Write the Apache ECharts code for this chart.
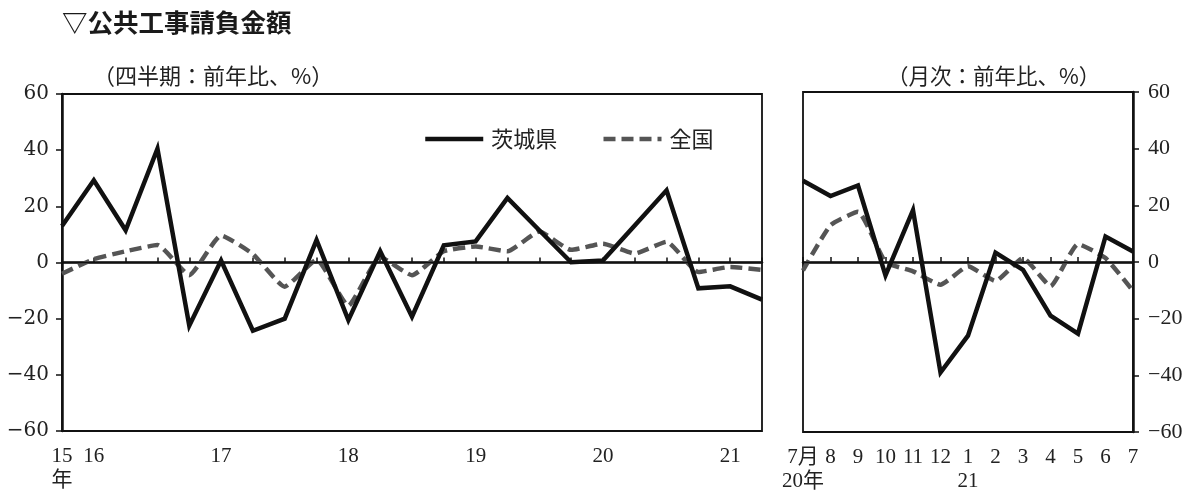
<!DOCTYPE html>
<html><head><meta charset="utf-8">
<script src="https://cdn.jsdelivr.net/npm/echarts@6/dist/echarts.min.js"></script>
<style>html,body{margin:0;padding:0;background:#fff}#c{width:1197px;height:493px}</style>
</head><body><div id="c"></div>
<script>
// Quarterly (前年比, %), 2015 Q4 .. 2021 Q2
var quarterLabels = ['15\n年','16','','','','17','','','','18','','','','19','','','','20','','','','21',''];
var ibarakiQ  = [13, 29.3, 11.5, 40.5, -22.5, 0.7, -24.3, -20, 8, -20.5, 4, -19.3, 6.1, 7.5, 23, 11.5, 0.1, 0.7, 13.2, 25.7, -9.2, -8.5, -13.2];
var nationalQ = [-4, 1.2, 4, 6.2, -4.5, 9.6, 3, -8.6, 1, -15.4, 2, -4.5, 4, 5.7, 4, 11, 4.5, 6.7, 3.2, 7.4, -3.4, -1.6, -2.6];
// Monthly (前年比, %), 2020/7 .. 2021/7
var monthLabels = ['7月\n20年','8','9','10','11','12','1\n21','2','3','4','5','6','7'];
var ibarakiM  = [28.7, 23.3, 27, -4.7, 18.3, -39, -26, 3.3, -2.8, -18.9, -25.3, 9, 3.7];
var nationalM = [-3, 13, 17.7, 0, -3.3, -8, -1.5, -6.7, 1.4, -8.5, 6.3, 1.4, -10.2];
var yTicks = {min: -60, max: 60, interval: 20};
var seriesNames = ['茨城県', '全国'];
var titleText = '▽公共工事請負金額';
var subLeft = '（四半期：前年比、%）';
var subRight = '（月次：前年比、%）';

var chart = echarts.init(document.getElementById('c'), null, {renderer: 'canvas'});
var CJK = '"Noto Sans CJK JP", "Noto Sans", sans-serif';
var minusFmt = function (v) { return String(v).replace('-', '\u2212'); };
var solidStyle = {color: '#111', width: 4.5, join: 'miter', cap: 'butt'};
var dashStyle = {color: '#555', width: 4.5, type: [12, 6], join: 'round', cap: 'butt'};
var zeroLine = {silent: true, symbol: 'none', label: {show: false},
  lineStyle: {color: '#111', width: 1.3, type: 'solid'}, data: [{yAxis: 0}]};

function xAx(gi, data, font, size) {
  return {type: 'category', gridIndex: gi, data: data, boundaryGap: false, position: 'bottom',
    axisLine: {show: true, lineStyle: {color: '#111', width: 2.5}},
    axisTick: {show: true, inside: true, length: 5, interval: 0, lineStyle: {color: '#111', width: 1.5}},
    axisLabel: {interval: 0, margin: 13, color: '#222', fontFamily: font, fontSize: size, lineHeight: 24},
    splitLine: {show: false}};
}
function yAx(gi, pos, font, size, margin) {
  return {type: 'value', gridIndex: gi, position: pos, min: yTicks.min, max: yTicks.max, interval: yTicks.interval,
    axisLine: {show: true, lineStyle: {color: '#111', width: 2.5}},
    axisTick: {show: true, inside: false, length: 6, lineStyle: {color: '#111', width: 1.5}},
    axisLabel: {margin: margin, color: '#222', fontFamily: font, fontSize: size, formatter: minusFmt},
    splitLine: {show: false}};
}

chart.setOption({
  animation: false,
  backgroundColor: '#fff',
  title: [
    {text: titleText, left: 57, top: 5, padding: 5, textStyle: {fontFamily: CJK, fontWeight: 'bold', fontSize: 25.5, color: '#1a1a1a'}},
    {text: subLeft, left: 88, top: 60, textStyle: {fontFamily: CJK, fontWeight: 'normal', fontSize: 22, color: '#222'}},
    {text: subRight, left: 882, top: 60, textStyle: {fontFamily: CJK, fontWeight: 'normal', fontSize: 21.5, color: '#222'}}
  ],
  legend: {
    data: seriesNames, left: 423, top: 128, padding: 0, itemWidth: 58, itemHeight: 20, itemGap: 44,
    textStyle: {fontFamily: CJK, fontSize: 22, color: '#222', padding: [0, 0, 0, 3]},
    itemStyle: {opacity: 0, borderWidth: 0},
    lineStyle: {width: 4.5}
  },
  grid: [
    {left: 62, top: 94, width: 700, height: 337, show: true, borderColor: '#111', borderWidth: 1.8, backgroundColor: 'transparent'},
    {left: 803, top: 92, width: 330, height: 344, show: true, borderColor: '#111', borderWidth: 1.8, backgroundColor: 'transparent'}
  ],
  xAxis: [
    xAx(0, quarterLabels, '"Liberation Serif", "Noto Sans CJK JP", serif', 21),
    xAx(1, monthLabels, '"Liberation Serif", "Noto Sans CJK JP", serif', 21)
  ],
  yAxis: [
    yAx(0, 'left', '"DejaVu Serif", serif', 20, 13),
    yAx(1, 'right', '"Liberation Serif", serif', 22, 15)
  ],
  series: [
    {name: seriesNames[0], type: 'line', xAxisIndex: 0, yAxisIndex: 0, data: ibarakiQ, symbol: 'none', lineStyle: solidStyle, itemStyle: {color: '#111'}, z: 3, markLine: zeroLine},
    {name: seriesNames[1], type: 'line', xAxisIndex: 0, yAxisIndex: 0, data: nationalQ, symbol: 'none', smooth: 0.15, lineStyle: dashStyle, itemStyle: {color: '#555'}, z: 2},
    {name: seriesNames[0], type: 'line', xAxisIndex: 1, yAxisIndex: 1, data: ibarakiM, symbol: 'none', lineStyle: solidStyle, itemStyle: {color: '#111'}, z: 3, markLine: zeroLine},
    {name: seriesNames[1], type: 'line', xAxisIndex: 1, yAxisIndex: 1, data: nationalM, symbol: 'none', smooth: 0.15, lineStyle: dashStyle, itemStyle: {color: '#555'}, z: 2}
  ]
});
</script></body></html>
